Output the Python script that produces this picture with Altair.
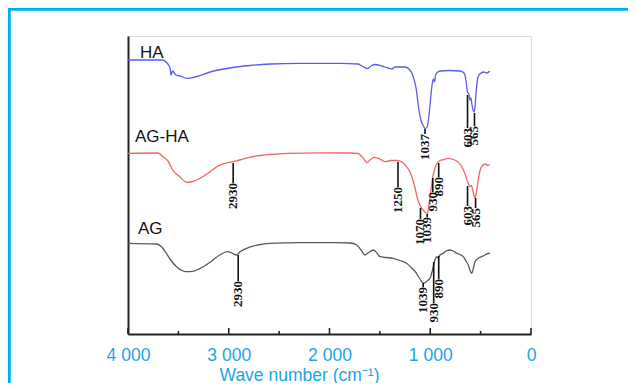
import altair as alt
import pandas as pd

# ---------------- data ----------------
ha_wn = [4000, 3656, 3613, 3583, 3573, 3558, 3524, 3484, 3414, 3335, 3186, 2988, 2789, 2591, 2293,
         1896, 1717, 1677, 1628, 1588, 1548, 1479, 1419, 1379, 1350, 1251, 1201, 1171, 1141, 1112,
         1087, 1072, 1052, 1032, 1012, 993, 978, 968, 958, 944, 904, 805, 705, 665, 646, 631, 617,
         607, 597, 587, 567, 557, 547, 528, 508, 468, 439, 409]
ha_v = [274, 274, 271, 266, 259, 263, 259, 258, 255.7, 257, 262, 266, 268.5, 270, 270.7,
        270.7, 270, 268, 265.5, 268, 269.5, 268, 266, 265, 267, 267, 264, 258, 246, 224,
        212, 209, 205.5, 207, 219, 239, 252, 255, 252, 260, 263, 263.5, 263, 261, 254, 242, 240,
        234, 236, 230, 222, 226, 239, 256, 260, 262, 261, 263]

agha_wn = [4000, 3702, 3653, 3603, 3556, 3484, 3414, 3354, 3285, 3188, 3120, 3040, 2956, 2891, 2762,
           2591, 2422, 2094, 1796, 1717, 1667, 1628, 1598, 1558, 1499, 1449, 1390, 1330, 1280, 1241,
           1201, 1161, 1122, 1092, 1067, 1030, 1012, 997, 975, 963, 944, 904, 864, 822, 785, 739,
           697, 657, 623, 602, 592, 576, 556, 542, 524, 507, 490, 456, 427, 407]
agha_v = [180.7, 181, 177.3, 173, 164, 157, 151.7, 152.5, 155.7, 162, 167.3, 170.5, 172.3, 174, 177.3,
          179.5, 180.7, 181.2, 181, 180.5, 176, 171.3, 174, 176.7, 175, 172.3, 173.5, 173.5, 172, 168,
          162, 150, 134, 127, 123.5, 120.7, 129, 141, 157, 162, 168.5, 173.5, 174.5, 175.7, 175, 173,
          169, 160.7, 150.7, 147.3, 148.5, 143, 135.7, 142, 154, 163, 167.3, 170, 168.5, 169.5]

ag_wn = [4000, 3715, 3665, 3619, 3576, 3518, 3466, 3419, 3357, 3253, 3169, 3089, 3015, 2970, 2924,
         2891, 2825, 2713, 2591, 2293, 1929, 1796, 1730, 1687, 1648, 1618, 1565, 1529, 1499, 1439,
         1367, 1301, 1235, 1184, 1136, 1102, 1069, 1042, 1027, 1002, 983, 970, 953, 936, 923, 903,
         870, 844, 804, 764, 738, 705, 672, 645, 623, 606, 589, 576, 556, 526, 490, 456, 427, 407]
ag_v = [90.7, 90, 87, 80.7, 74, 67.3, 63.5, 62.3, 62.7, 67.3, 73, 79, 82.3, 81, 79,
        82, 85.7, 89, 90.7, 91.3, 91.3, 91, 89, 84, 79, 81, 84, 81, 77.3, 76.5,
        75.7, 73.5, 70.7, 66, 60.7, 55, 50.7, 52, 53.5, 55.7, 62, 67.3, 74, 77.3, 76, 79,
        80.7, 83, 84, 82.5, 80.7, 79.5, 77.3, 73, 69, 64, 60.7, 64, 72.3, 75.5, 77.3, 79, 80.5, 80.7]

series_names = ["HA", "AG-HA", "AG"]
series_colors = ["#5b5bec", "#ef6464", "#5a5a5a"]
series_label_wn = [3881, 3931, 3901]
series_label_v = [276, 192, 100]

# peak annotations: series, text, wavenumber, line top, line bottom
peak_series = ["HA", "HA", "HA",
               "AG-HA", "AG-HA", "AG-HA", "AG-HA", "AG-HA", "AG-HA", "AG-HA", "AG-HA",
               "AG", "AG", "AG", "AG"]
peak_text = ["1037", "603", "565",
             "2930", "1250", "1070", "1039", "930", "890", "603", "565",
             "2930", "1039", "930", "890"]
peak_wn = [1052, 630, 561,
           2956, 1320, 1097, 1030, 975, 916, 630, 550,
           2906, 1070, 966, 916]
peak_top = [205, 239, 221,
            171, 172, 126, 120, 156, 171, 148, 136,
            79, 51, 72, 78]
peak_bot = [200, 206, 208,
            151, 147, 115, 117, 142, 157, 128, 126,
            53, 47, 31, 55]

x_ticks = [4000, 3000, 2000, 1000, 0]
x_tick_labels = ["4 000", "3 000", "2 000", "1 000", "0"]
x_minor = [3500, 2500, 1500, 500]

# ---------------- frames ----------------
rows = []
for name, wn, v in [("HA", ha_wn, ha_v), ("AG-HA", agha_wn, agha_v), ("AG", ag_wn, ag_v)]:
    for i, (a, b) in enumerate(zip(wn, v)):
        rows.append({"series": name, "idx": i, "wn": a, "v": b})
spec_df = pd.DataFrame(rows)
lab_df = pd.DataFrame({"series": series_names, "wn": series_label_wn, "v": series_label_v})
peak_df = pd.DataFrame({"series": peak_series, "text": peak_text, "wn": peak_wn,
                        "top": peak_top, "bot": peak_bot})
major_df = pd.DataFrame({"wn": x_ticks})
minor_df = pd.DataFrame({"wn": x_minor})

BLUE = "#1aa5e8"
label_expr = " : ".join(f"datum.value == {v} ? '{l}'" for v, l in zip(x_ticks, x_tick_labels)) + " : ''"

xscale = alt.Scale(domain=[4000, 0], nice=False, zero=False)
yscale = alt.Scale(domain=[0, 298], nice=False, zero=False)
xaxis = alt.Axis(values=x_ticks, labelExpr=label_expr, ticks=False, grid=False,
                 domainColor="#222222", domainWidth=2, labelColor=BLUE, labelFontSize=17.5,
                 labelFont="Liberation Sans", labelPadding=12, labelFlush=False,
                 titleColor=BLUE, titleFontSize=17.5, titleFont="Liberation Sans",
                 titleFontWeight="normal", titleX=171, titleY=46, titleAlign="center",
                 titleBaseline="alphabetic")
yaxis = alt.Axis(ticks=False, labels=False, grid=False, domainColor="#222222", domainWidth=2)
XT = "Wave number (cm⁻¹)"


def X(field="wn"):
    return alt.X(f"{field}:Q", scale=xscale, axis=xaxis, title=XT)


def Y(field):
    return alt.Y(f"{field}:Q", scale=yscale, axis=yaxis, title="")


color = alt.Color("series:N", scale=alt.Scale(domain=series_names, range=series_colors), legend=None)

lines = alt.Chart(spec_df).mark_line(strokeWidth=1.3, interpolate="monotone").encode(
    x=X(), y=Y("v"), color=color, detail="series:N", order="idx:Q")

labels = alt.Chart(lab_df).mark_text(font="Liberation Sans", fontSize=17, align="left",
                                     baseline="alphabetic", color="#111111").encode(
    x=X(), y=Y("v"), text="series:N")

peak_rules = alt.Chart(peak_df).mark_rule(color="#111111", strokeWidth=1.6).encode(
    x=X(), y=Y("top"), y2="bot:Q")

peak_texts = alt.Chart(peak_df).mark_text(font="Liberation Serif", fontSize=13, fontWeight="bold",
                                          angle=270, align="right", baseline="middle",
                                          color="#111111").encode(
    x=X(), y=Y("bot"), text="text:N")

major = alt.Chart(major_df).mark_rule(color="#222222", strokeWidth=1.6).encode(
    x=X(), y=alt.value(298), y2=alt.value(292))
minor = alt.Chart(minor_df).mark_rule(color="#222222", strokeWidth=1.6).encode(
    x=X(), y=alt.value(298), y2=alt.value(295))

frame_top = alt.Chart(major_df).mark_rule(color="#00aeef", strokeWidth=2.5).encode(
    x=alt.value(-120), x2=alt.value(500), y=alt.value(-27))
frame_left = alt.Chart(major_df).mark_rule(color="#00aeef", strokeWidth=2.5).encode(
    x=alt.value(-119), y=alt.value(-28), y2=alt.value(347))

chart = alt.layer(frame_top, frame_left, lines, peak_rules, peak_texts, labels, major, minor).properties(
    width=403, height=298, autosize="none",
    padding={"left": 120, "top": 28, "right": 97, "bottom": 49},
).configure_view(stroke=None).configure(background="white")

chart.save("out.html", embed_options={"renderer": "svg", "actions": False})
